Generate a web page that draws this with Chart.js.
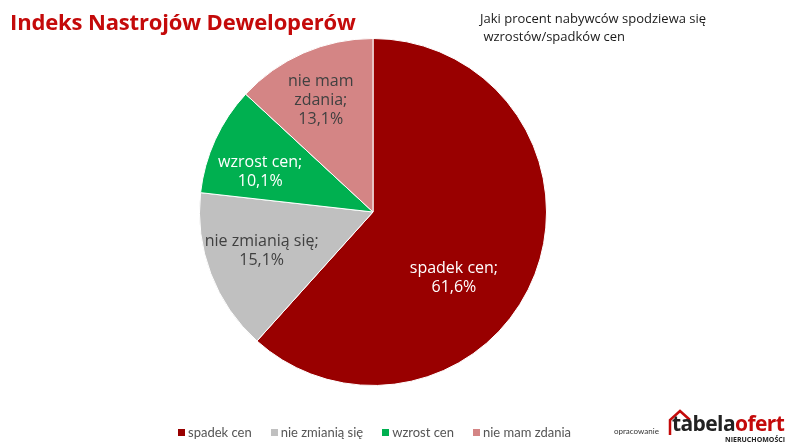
<!DOCTYPE html>
<html>
<head>
<meta charset="utf-8">
<script src="https://cdn.jsdelivr.net/npm/chart.js@4"></script>
<style>
  body { margin: 0; background: #fff; font-family: "Lato", sans-serif; }
  #wrap { position: relative; width: 800px; height: 448px; overflow: hidden; }
  #chart { position: absolute; left: 0; top: 0; }
  #title { position: absolute; left: 10px; top: 6px; font-family: "Open Sans", sans-serif; font-weight: 700;
           font-size: 22px; color: #c40a0a; letter-spacing: -0.15px; }
  #subtitle { position: absolute; left: 480px; top: 9px; font-family: "Open Sans", sans-serif; font-size: 13px;
              color: #1a1a1a; line-height: 18px; white-space: pre; }
  #legend { position: absolute; top: 424px; left: 178px; display: flex; font-size: 13px; color: #555; }
  #legend .item { display: flex; align-items: center; margin-right: 19px; }
  #legend .box { width: 7px; height: 7px; margin-right: 3px; }
  #logo { position: absolute; left: 608px; top: 404px; width: 192px; height: 44px; }
  #logo .op { position: absolute; left: 6px; top: 22px; font-size: 8px; color: #333; }
  #logo .brand { position: absolute; left: 64px; top: 5px; font-family: "Open Sans", sans-serif; font-weight: 700;
                 font-size: 21px; letter-spacing: -0.6px; color: #222; }
  #logo .brand span { color: #c40a0a; }
  #logo .sub { position: absolute; left: 117px; top: 31px; font-family: "Open Sans", sans-serif; font-weight: 700;
               font-size: 7px; color: #222; }
  #logo svg { position: absolute; left: 60px; top: 4px; }
</style>
</head>
<body>
<div id="wrap">
  <canvas id="chart" width="800" height="448"></canvas>
  <div id="title">Indeks Nastrojów Deweloperów</div>
  <div id="subtitle">Jaki procent nabywców spodziewa się
 wzrostów/spadków cen</div>
  <div id="legend"></div>
  <div id="logo">
    <div class="op">opracowanie</div>
    <svg width="40" height="30"><path d="M2 27 L2 12 L12 3 L22 12" fill="none" stroke="#c40a0a" stroke-width="2.5"/></svg>
    <div class="brand">tabela<span>ofert</span></div>
    <div class="sub">NIERUCHOMOŚCI</div>
  </div>
</div>
<script>
// ==================== DANE ====================
const categories = ["spadek cen", "nie zmianią się", "wzrost cen", "nie mam zdania"];
const shares = [61.6, 15.1, 10.1, 13.1];
const colors = ["#990000", "#c0c0c0", "#00b050", "#d48585"];
const labelColors = ["#ffffff", "#404040", "#ffffff", "#404040"];
// etykiety w wycinkach (pierwsza linia, druga linia...)
const sliceLabels = [
    ["spadek cen;"],
    ["nie zmianią się;"],
    ["wzrost cen;"],
    ["nie mam", "zdania;"]
];
// położenie etykiety: ułamek promienia i przesunięcie kąta (stopnie)
const labelRadius = [0.60, 0.68, 0.69, 0.71];
const labelShift = [18, 1.5, -5, -1.5];

const fmt = v => v.toFixed(1).replace(".", ",") + "%";

// ==================== ETYKIETY ====================
const sliceLabelPlugin = {
    id: "sliceLabels",
    afterDatasetsDraw(chart) {
        const ctx = chart.ctx;
        const meta = chart.getDatasetMeta(0);
        ctx.save();
        ctx.font = "16px 'Open Sans', sans-serif";
        ctx.textAlign = "center";
        ctx.textBaseline = "middle";
        meta.data.forEach((arc, i) => {
            const p = arc.getProps(["x", "y", "startAngle", "endAngle", "outerRadius"]);
            const mid = (p.startAngle + p.endAngle) / 2 + labelShift[i] * Math.PI / 180;
            const r = p.outerRadius * labelRadius[i];
            const cx = p.x + Math.cos(mid) * r;
            const cy = p.y + Math.sin(mid) * r;
            const lines = [...sliceLabels[i], fmt(shares[i])];
            const lh = 19;
            ctx.fillStyle = labelColors[i];
            lines.forEach((t, k) => {
                ctx.fillText(t, cx, cy + (k - (lines.length - 1) / 2) * lh);
            });
        });
        ctx.restore();
    }
};

// ==================== WYKRES ====================
new Chart(document.getElementById("chart").getContext("2d"), {
    type: "pie",
    data: {
        labels: categories,
        datasets: [{
            data: shares,
            backgroundColor: colors,
            borderColor: "#ffffff",
            borderWidth: 1,
        }],
    },
    options: {
        responsive: false,
        animation: false,
        layout: { padding: { top: 38, bottom: 62, left: 199, right: 253 } },
        plugins: {
            legend: { display: false },
            tooltip: { enabled: false }
        }
    },
    plugins: [sliceLabelPlugin]
});

// legenda
const legend = document.getElementById("legend");
categories.forEach((c, i) => {
    legend.insertAdjacentHTML("beforeend",
        `<div class="item"><div class="box" style="background:${colors[i]}"></div>${c}</div>`);
});
</script>
</body>
</html>
